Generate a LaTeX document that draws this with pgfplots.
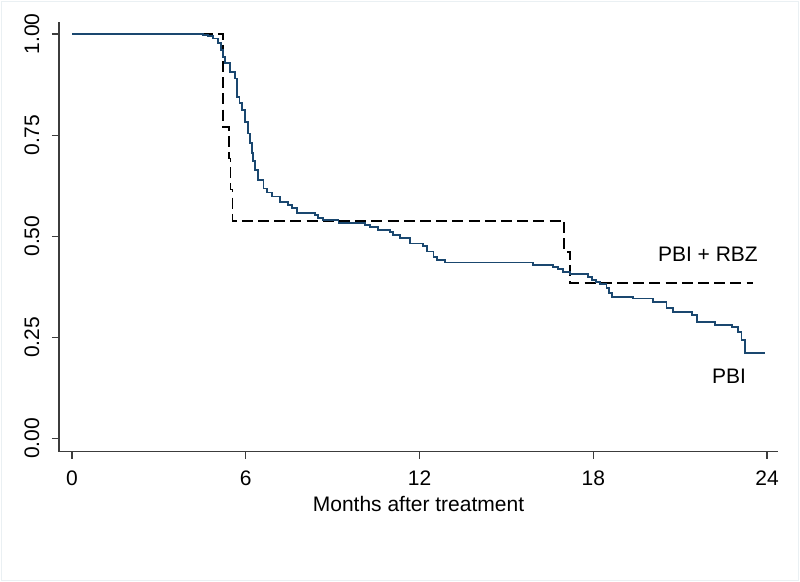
\documentclass[border=0pt]{standalone}
\usepackage{pgfplots}
\pgfplotsset{compat=1.18}
\usepackage{fontspec}
\setmainfont{Liberation Sans}
\definecolor{statanavy}{RGB}{26,71,111}
\definecolor{axisgray}{RGB}{60,60,60}
\definecolor{borderc}{RGB}{234,240,243}
\begin{document}
\begin{tikzpicture}
\fill[white] (0,0) rectangle (400bp,291bp);
\draw[borderc, line width=0.8bp] (0.8bp,0.8bp) rectangle (399.2bp,290.2bp);
\begin{axis}[
  at={(29.5bp,65.15bp)}, anchor=south west,
  scale only axis, width=359.5bp, height=214.7bp,
  xmin=-0.45, xmax=24.38, ymin=-0.033, ymax=1.029,
  axis x line*=bottom, axis y line*=left,
  axis line style={-, axisgray, line width=0.6bp},
  tick style={axisgray, line width=0.6bp},
  tick align=outside, major tick length=3.5bp,
  xtick={0,6,12,18,24}, ytick={0,0.25,0.5,0.75,1},
  /pgf/number format/assume math mode=true,
  yticklabel style={/pgf/number format/fixed, /pgf/number format/fixed zerofill, /pgf/number format/precision=2,
     xshift=-10bp, rotate=90, anchor=center},
  xticklabel style={anchor=center, yshift=-9.6bp},
  ticklabel style={font=\fontsize{10.5bp}{12bp}\selectfont, text=black},
  xlabel={Months after treatment},
  xlabel style={at={(axis description cs:0.5,0)}, anchor=center, yshift=-26.2bp, font=\fontsize{10.5bp}{12bp}\selectfont},
  clip=false,
]
% PBI + RBZ
\addplot[const plot, black, line width=0.9bp, dash pattern=on 5.5bp off 2.6bp] coordinates {
(0,1) (5.22,0.7692) (5.43,0.6923) (5.47,0.6154) (5.54,0.5385) (17.00,0.4615) (17.20,0.3846) (23.53,0.3846)
};
% PBI
\addplot[const plot, statanavy, line width=0.9bp] coordinates {
(0,1) (4.53,0.998) (4.70,0.995) (4.87,0.989) (5.04,0.977) (5.14,0.960) (5.21,0.944) (5.28,0.928)
(5.46,0.907) (5.63,0.890) (5.71,0.845) (5.78,0.830) (5.86,0.812) (5.97,0.783) (6.09,0.754)
(6.15,0.730) (6.21,0.705) (6.26,0.685) (6.32,0.664) (6.43,0.639) (6.61,0.618) (6.72,0.608)
(6.90,0.598) (7.18,0.585) (7.47,0.577) (7.59,0.569) (7.76,0.558) (8.39,0.552) (8.50,0.544)
(8.68,0.540) (9.20,0.533) (10.12,0.528) (10.29,0.522) (10.58,0.515) (10.98,0.511) (11.09,0.503)
(11.33,0.495) (11.67,0.482) (12.13,0.476) (12.25,0.462) (12.48,0.449) (12.59,0.441) (12.88,0.435)
(15.92,0.429) (16.62,0.424) (16.79,0.418) (16.96,0.412) (17.20,0.406) (17.83,0.400) (17.95,0.392)
(18.09,0.386) (18.23,0.382) (18.46,0.371) (18.54,0.360) (18.64,0.350) (19.38,0.346) (20.07,0.338)
(20.53,0.322) (20.76,0.313) (21.40,0.305) (21.57,0.288) (22.20,0.280) (22.78,0.276) (23.01,0.264)
(23.12,0.243) (23.24,0.212) (23.93,0.212)
};
\node[font=\fontsize{10.5bp}{12bp}\selectfont] at (axis cs:21.96,0.456) {PBI + RBZ};
\node[font=\fontsize{10.5bp}{12bp}\selectfont] at (axis cs:22.69,0.154) {PBI};
\end{axis}
\end{tikzpicture}
\end{document}
